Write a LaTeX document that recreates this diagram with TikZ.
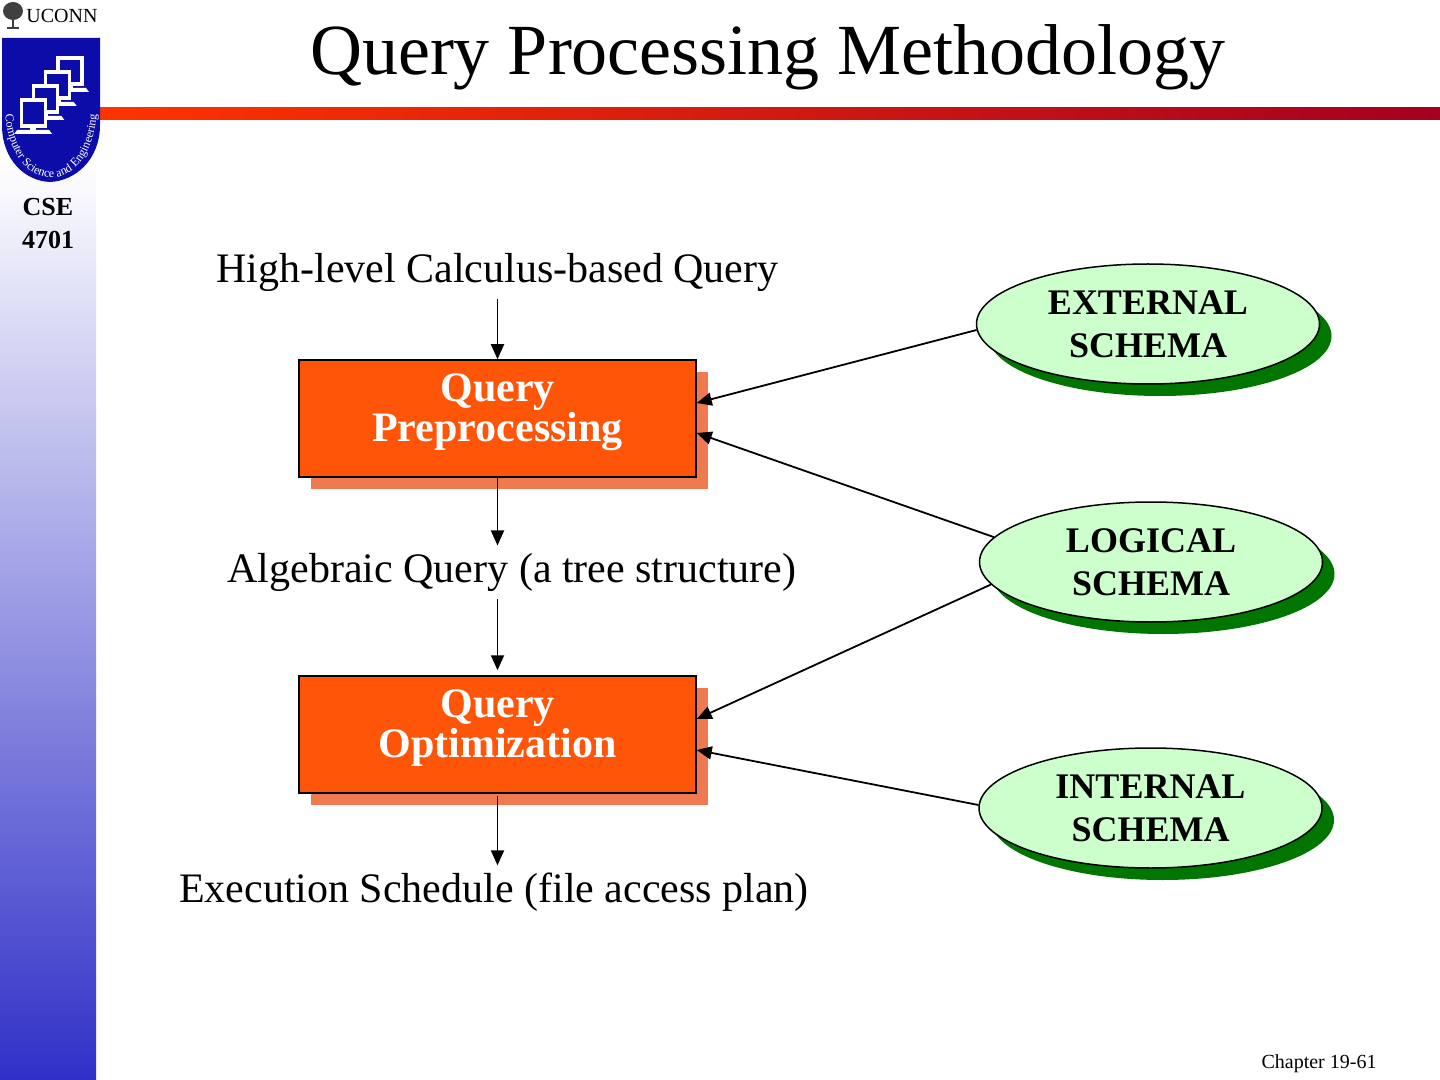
\documentclass[tikz,border=0pt]{standalone}
\usepackage{fontspec}
\setmainfont{Liberation Serif}
\usepackage{xcolor}
\usepackage{tikz}
\usetikzlibrary{arrows.meta}
\usetikzlibrary{shapes.geometric}
\usetikzlibrary{shadows}
\usetikzlibrary{decorations.text}
\usetikzlibrary{positioning}
\definecolor{QOrange}{RGB}{255,85,8}
\definecolor{QShadow}{RGB}{240,122,80}
\definecolor{SGreen}{RGB}{204,255,204}
\definecolor{SDark}{RGB}{0,118,0}
\definecolor{BarStart}{RGB}{255,51,0}
\definecolor{BarEnd}{RGB}{165,0,32}
\definecolor{SideBlue}{RGB}{48,48,200}
\definecolor{ShieldBlue}{RGB}{12,12,168}
\tikzset{
  QBox/.style={
    rectangle, draw=black, line width=0.75pt, fill=QOrange,
    minimum width=198.5pt, minimum height=58.5pt,
    drop shadow={shadow xshift=6pt, shadow yshift=-6pt, fill=QShadow, opacity=1},
  },
  QBoxText/.style={
    text=white, align=center,
    font=\bfseries\fontsize{21}{19}\selectfont,
  },
  Schema/.style={
    ellipse, draw=black, line width=0.75pt, fill=SGreen,
    minimum width=171.5pt, minimum height=60pt, inner sep=0pt,
    align=center, font=\bfseries\fontsize{18}{21.5}\selectfont,
    drop shadow={shadow xshift=6pt, shadow yshift=-6pt, fill=SDark, opacity=1},
  },
  FlowText/.style={font=\fontsize{21}{25}\selectfont, inner sep=3.5pt},
  FlowArrow/.style={-{Triangle[length=7.5pt,width=6.5pt]}, line width=0.9pt},
}

\begin{document}
\begin{tikzpicture}[x=0.5pt,y=-0.5pt]
\useasboundingbox (0,0) rectangle (1440,1080);
\fill[white] (0,0) rectangle (1440,1080);
% side bar and header line
\fill[white] (0,0) rectangle (96,160);
\shade[top color=white, bottom color=SideBlue] (0,160) rectangle (96,1080);
\shade[left color=BarStart, right color=BarEnd] (100,108) rectangle (1440,120);
% logo
\fill[black!75] (13,11) ellipse [x radius=10, y radius=9];
\draw[black!75, line width=1.2pt] (13,16) -- (13,28) (7,28) -- (19,28);
\node[font=\fontsize{10}{12}\selectfont, inner sep=0pt] (UCONN) at (62,16) {UCONN};
\fill[ShieldBlue] (2,38) -- (100,38) -- (100,125) .. controls (100,160) and (75,181) .. (50,182)
  .. controls (25,181) and (2,160) .. (2,125) -- cycle;
\foreach \i in {0,...,3} {
  \filldraw[fill=ShieldBlue, draw=white, line width=1.6pt] (58-12.3*\i,58+14*\i) rectangle +(24,26);
  \fill[white] (67-12.3*\i,84+14*\i) rectangle +(6,4);
  \fill[white] (54-12.3*\i,88+14*\i) -- +(32,0) -- +(35,4) -- +(-3,4) -- cycle;
}
\path[decorate, decoration={text along path, text align=center,
  text={|\fontsize{6}{7}\selectfont\color{white}|Computer Science and Engineering}}]
  (5,104) .. controls (5,202) and (97,202) .. (97,104);
\node[font=\bfseries\fontsize{13}{16.5}\selectfont, align=center] (CSE) at (48,224) {CSE\\4701};
% title
\node[font=\fontsize{36}{40}\selectfont] (TITLE) at (768,57) {Query Processing Methodology};
% flow
\node[FlowText] (HL) at (497.5,272) {High-level Calculus-based Query};
\node[QBox] (QP) at (497.5,418.5) {};
\node[QBoxText] (QPtext) at (497.5,412) {Query\\Preprocessing};
\node[FlowText] (AQ) at (512,572) {Algebraic Query (a tree structure)};
\node[QBox] (QO) at (497.5,734.5) {};
\node[QBoxText] (QOtext) at (497.5,728) {Query\\Optimization};
\node[FlowText] (EX) at (494,892) {Execution Schedule (file access plan)};
% schemas
\node[Schema] (ES) at (1148,324) {EXTERNAL\\SCHEMA};
\node[Schema] (LS) at (1151,562) {LOGICAL\\SCHEMA};
\node[Schema] (IS) at (1150.5,808) {INTERNAL\\SCHEMA};
% arrows
\draw[FlowArrow] (HL.south -| QP.north) -- (QP.north);
\draw[FlowArrow] (QP.south) -- (QP.south |- AQ.north);
\draw[FlowArrow, shorten >=2.5pt] (AQ.south -| QO.north) -- (QO.north);
\draw[FlowArrow, shorten <=1pt] (QO.south) -- (QO.south |- EX.north);
\draw[FlowArrow] (ES.182) -- ([yshift=7.75pt]QP.east);
\draw[FlowArrow] (LS.171) -- ([yshift=-7.25pt]QP.east);
\draw[FlowArrow] (LS.188) -- ([yshift=7.75pt]QO.east);
\draw[FlowArrow] (IS.179) -- ([yshift=-7.75pt]QO.east);
% footer
\node[font=\fontsize{10}{12}\selectfont] (CHAP) at (1319,1064) {Chapter 19-61};
\end{tikzpicture}
\end{document}
